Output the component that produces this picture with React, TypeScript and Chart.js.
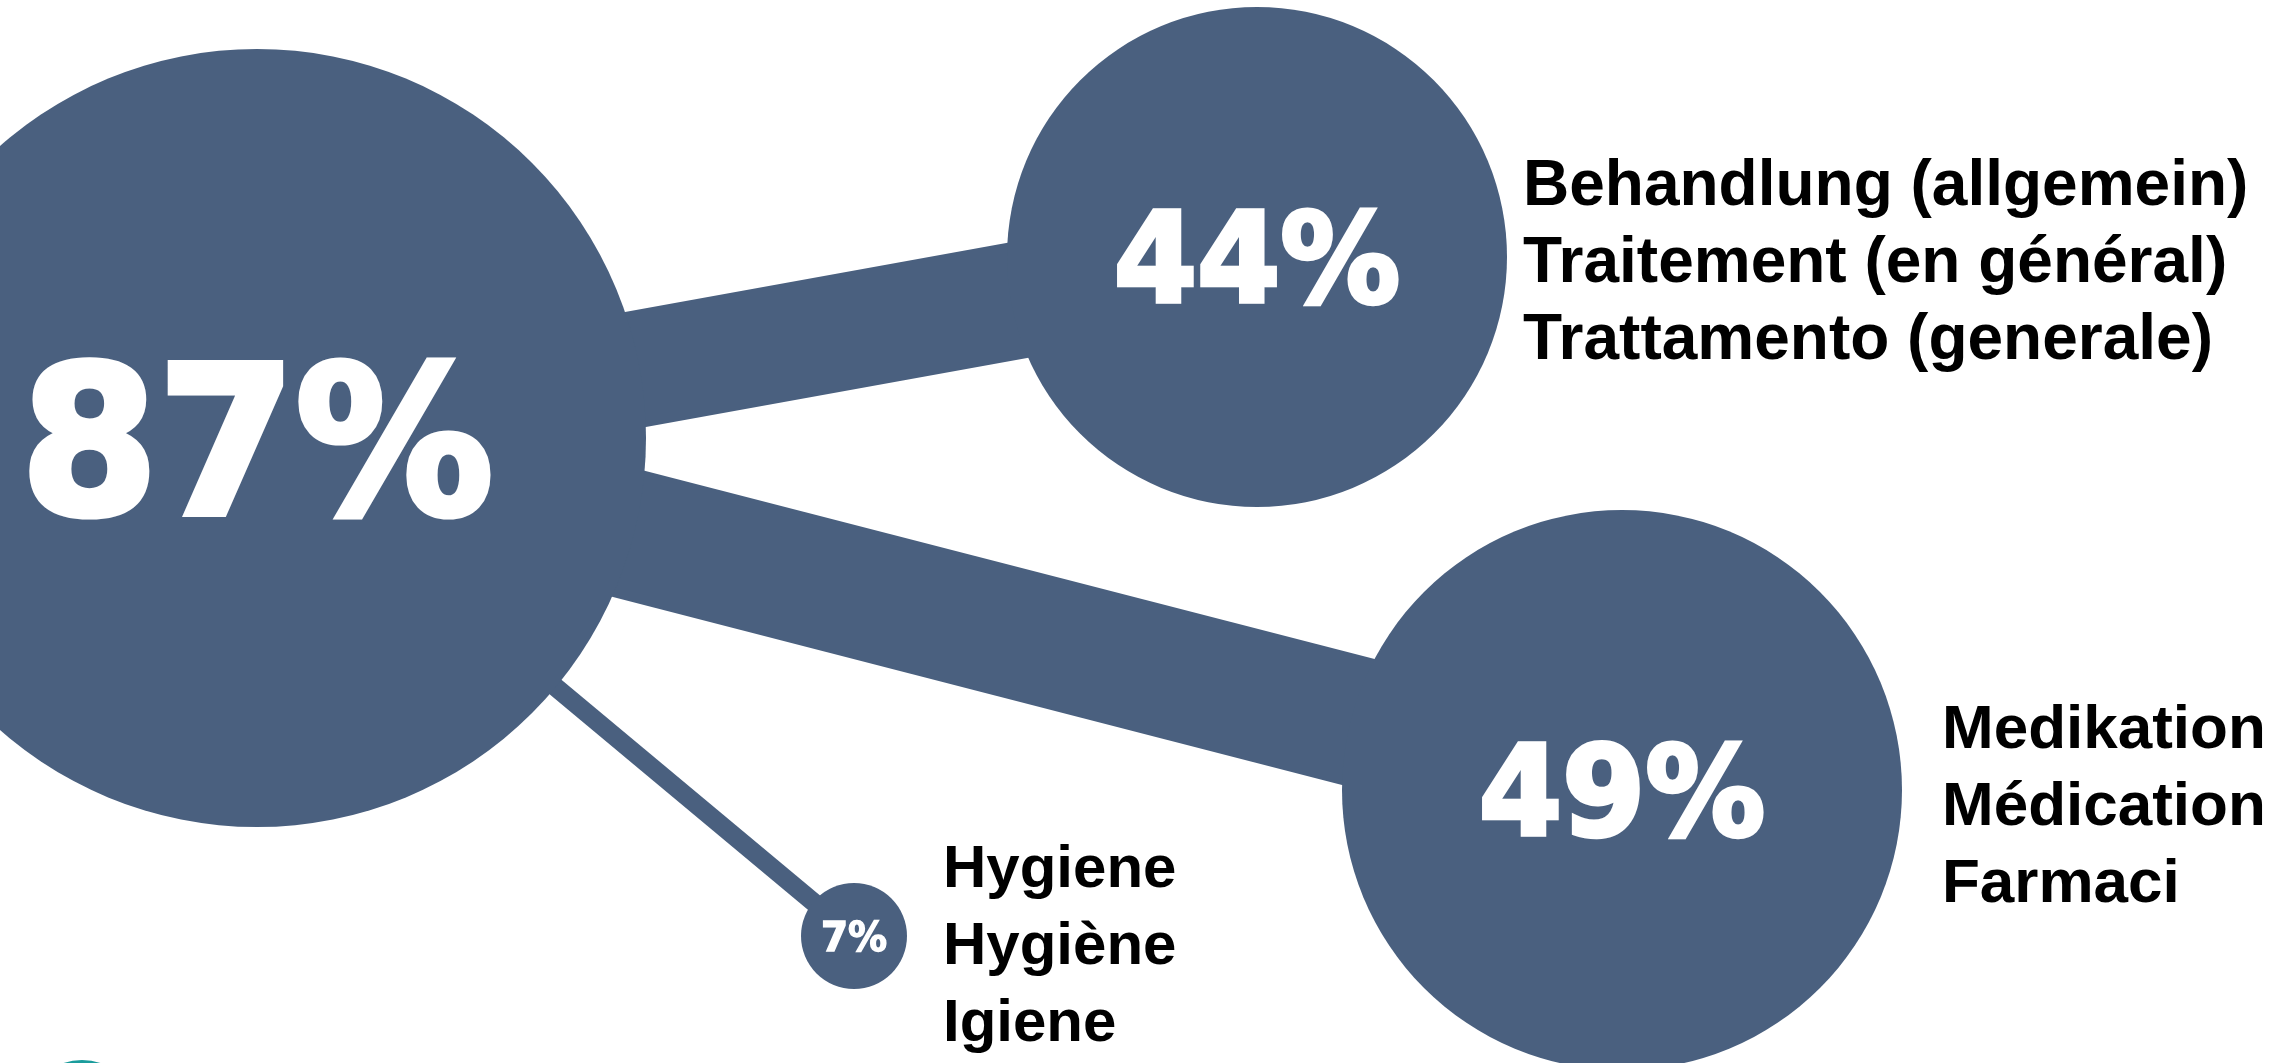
import React, { useEffect, useRef } from "react";
import { Chart, registerables } from "chart.js";

Chart.register(...registerables);

// ---- data ----
const values = [87, 44, 49, 7];
const categories: string[][] = [
  [],
  ["Behandlung (allgemein)", "Traitement (en général)", "Trattamento (generale)"],
  ["Medikation", "Médication", "Farmaci"],
  ["Hygiene", "Hygiène", "Igiene"],
];

// ---- layout (in chart layout units, x 0..2288, y 0..1063) ----
const bubbleX = [257, 1257, 1622, 854];
const bubbleY = [438, 257, 790, 936];
const bubbleR = [389, 250, 280, 53];
const labelX = [0, 1523, 1942, 943];
const labelY = [0, 205, 748, 887];
const decoX = [82];
const decoY = [1118];
const decoR = [58];

// ---- styles ----
const BLUE = "#4A607F";
const TEAL = "#1A9C9C";
const pctFont = [205, 124, 124, 41];
const pctScaleX = [0.963, 0.966, 0.966, 0.951];
const labelFont = [0, 64, 62, 60];
const LINE_STEP = 77;
const CONNECTOR_PX_PER_PERCENT = 2.66;

export default function App() {
  const ref = useRef<HTMLCanvasElement>(null);

  useEffect(() => {
    const canvas = ref.current;
    if (!canvas) return;

    const textPlugin = {
      id: "bubbleText",
      afterDatasetsDraw(chart: any) {
        const ctx = chart.ctx as CanvasRenderingContext2D;
        const xs = chart.scales.x;
        const ys = chart.scales.y;
        values.forEach((v, i) => {
          const cx = xs.getPixelForValue(bubbleX[i]);
          const cy = ys.getPixelForValue(bubbleY[i]);
          const size = pctFont[i];
          ctx.save();
          ctx.fillStyle = "#FFFFFF";
          ctx.strokeStyle = "#FFFFFF";
          ctx.lineWidth = size * 0.035;
          ctx.lineJoin = "miter";
          ctx.font = `bold ${size}px "DejaVu Sans", sans-serif`;
          ctx.textAlign = "center";
          ctx.textBaseline = "alphabetic";
          ctx.translate(cx, cy + 0.3645 * size);
          ctx.scale(pctScaleX[i], 1);
          ctx.fillText(`${v}%`, 0, 0);
          ctx.strokeText(`${v}%`, 0, 0);
          ctx.restore();

          const lines = categories[i];
          if (lines.length) {
            ctx.save();
            ctx.fillStyle = "#000000";
            ctx.font = `bold ${labelFont[i]}px "Liberation Sans", Arial, sans-serif`;
            ctx.textAlign = "left";
            ctx.textBaseline = "alphabetic";
            lines.forEach((t, j) => {
              ctx.fillText(
                t,
                xs.getPixelForValue(labelX[i]),
                ys.getPixelForValue(labelY[i] + j * LINE_STEP)
              );
            });
            ctx.restore();
          }
        });
      },
    };

    const connectors = values.slice(1).map((v, k) => {
      const i = k + 1;
      return {
        type: "line" as const,
        data: [
          { x: bubbleX[0], y: bubbleY[0] },
          { x: bubbleX[i], y: bubbleY[i] },
        ],
        borderColor: BLUE,
        backgroundColor: BLUE,
        borderWidth: v * CONNECTOR_PX_PER_PERCENT,
        borderCapStyle: "butt" as const,
        pointRadius: 0,
        pointHoverRadius: 0,
        fill: false,
        tension: 0,
        clip: false as any,
      };
    });

    const chart = new Chart(canvas, {
      type: "bubble",
      data: {
        datasets: [
          {
            type: "bubble",
            data: values.map((_, i) => ({ x: bubbleX[i], y: bubbleY[i], r: bubbleR[i] })),
            backgroundColor: BLUE,
            borderWidth: 0,
            hoverBorderWidth: 0,
            clip: false as any,
          },
          {
            type: "bubble",
            data: decoX.map((x, i) => ({ x, y: decoY[i], r: decoR[i] })),
            backgroundColor: TEAL,
            borderWidth: 0,
            clip: false as any,
          },
          ...(connectors as any[]),
        ],
      },
      options: {
        animation: false,
        responsive: true,
        maintainAspectRatio: false,
        events: [],
        layout: { padding: 0, autoPadding: false },
        plugins: {
          legend: { display: false },
          tooltip: { enabled: false },
        },
        scales: {
          x: { type: "linear", min: 0, max: 2288, display: false },
          y: { type: "linear", min: 0, max: 1063, reverse: true, display: false },
        },
      },
      plugins: [textPlugin],
    });

    return () => chart.destroy();
  }, []);

  return (
    <div
      style={{
        position: "fixed",
        left: 0,
        top: 0,
        width: 2288,
        height: 1063,
        background: "#FFFFFF",
      }}
    >
      <canvas ref={ref} />
    </div>
  );
}
